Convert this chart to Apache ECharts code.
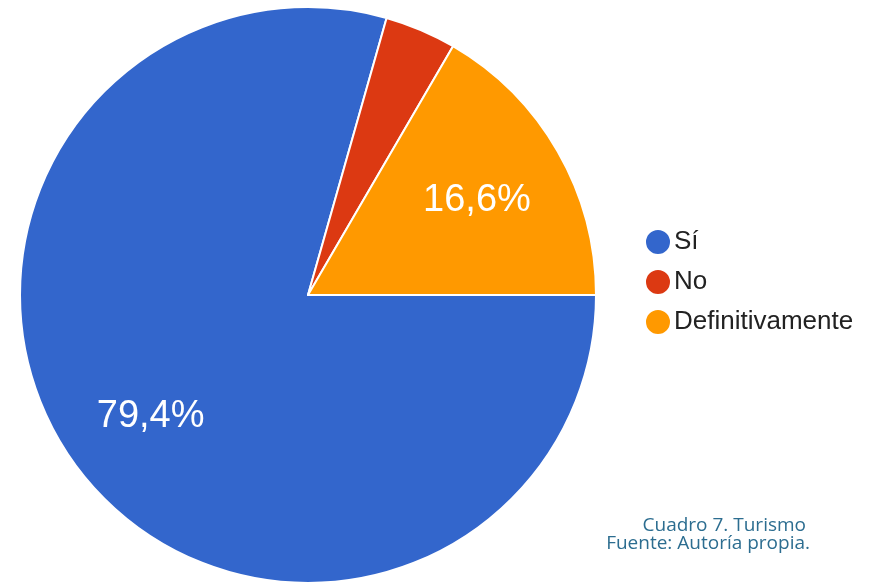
<!DOCTYPE html>
<html>
<head>
<meta charset="utf-8">
<script src="https://cdn.jsdelivr.net/npm/echarts@6/dist/echarts.min.js"></script>
<style>
  html, body { margin: 0; padding: 0; background: #ffffff; }
  #chart { width: 874px; height: 582px; }
</style>
</head>
<body>
<div id="chart"></div>
<script>
// Survey answers and their shares (%)
const categories = ['Sí', 'No', 'Definitivamente'];
const shares = [79.4, 4.0, 16.6];
const labelText = ['79,4%', '', '16,6%'];
const colors = ['#3366cc', '#dc3912', '#ff9900'];
const captionLines = ['Cuadro 7. Turismo', 'Fuente: Autoría propia.'];

const pieData = categories.map((name, i) => ({ name, value: shares[i] }));
const labelData = categories.map((name, i) => ({
  name, value: shares[i],
  label: { show: labelText[i] !== '', formatter: labelText[i] }
}));

const sansFont = "'Liberation Sans', Arial, sans-serif";

const chart = echarts.init(document.getElementById('chart'));
chart.setOption({
  animation: false,
  color: colors,
  legend: {
    orient: 'vertical',
    left: 639,
    top: 223,
    icon: 'circle',
    itemWidth: 26,
    itemHeight: 26,
    itemGap: 12,
    data: categories,
    textStyle: { fontFamily: sansFont, fontSize: 26, color: '#222222', padding: [0, 0, 0, -2] }
  },
  series: [
    {
      type: 'pie',
      center: [308, 295],
      radius: [0, 288],
      startAngle: 0,
      clockwise: true,
      silent: true,
      label: { show: false },
      labelLine: { show: false },
      itemStyle: { borderColor: '#ffffff', borderWidth: 2 },
      data: pieData
    },
    {
      // transparent ring used only to place the percentage labels at ~2/3 radius
      type: 'pie',
      center: [307, 298],
      radius: [100, 286],
      startAngle: 0,
      clockwise: true,
      silent: true,
      legendHoverLink: false,
      itemStyle: { color: 'rgba(0,0,0,0)' },
      label: {
        position: 'inside',
        color: '#ffffff',
        fontFamily: sansFont,
        fontSize: 38
      },
      labelLine: { show: false },
      data: labelData
    }
  ],
  graphic: [
    {
      type: 'text', right: 68, top: 516,
      style: { text: captionLines[0], fill: '#2c6d90', font: "19px 'Open Sans', sans-serif", textAlign: 'right' }
    },
    {
      type: 'text', right: 64, top: 534,
      style: { text: captionLines[1], fill: '#2c6d90', font: "19px 'Open Sans', sans-serif", textAlign: 'right' }
    }
  ]
});
</script>
</body>
</html>
